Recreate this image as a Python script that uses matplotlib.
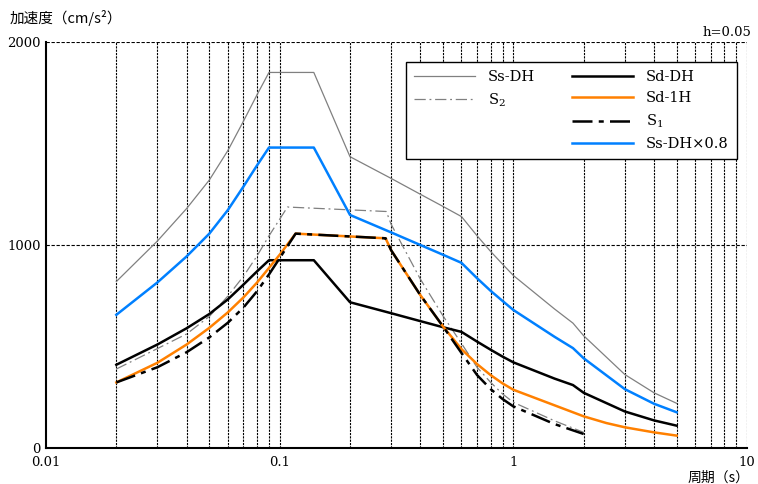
import numpy as np
import matplotlib
matplotlib.use("Agg")
import matplotlib.pyplot as plt
from matplotlib.lines import Line2D

plt.rcParams['font.family'] = ['DejaVu Serif']
plt.rcParams['mathtext.fontset'] = 'dejavuserif'

# periods (s) and spectral accelerations (cm/s2)
t_ss = [0.02, 0.03, 0.04, 0.05, 0.06, 0.07, 0.08, 0.09, 0.14, 0.2, 0.3, 0.4, 0.5, 0.6,
        0.7, 0.8, 0.9, 1.0, 1.5, 1.8, 2.0, 3.0, 4.0, 5.0]
ss_dh = [820, 1020, 1180, 1320, 1465, 1610, 1740, 1850, 1850, 1435, 1328, 1250, 1190, 1140,
         1045, 968, 905, 850, 685, 615, 553, 362, 272, 220]
ss_dh08 = [656, 816, 944, 1056, 1172, 1288, 1392, 1480, 1480, 1148, 1062, 1000, 952, 912,
           836, 774, 724, 680, 548, 492, 442, 290, 218, 176]
sd_dh = [410, 510, 590, 660, 732, 805, 870, 925, 925, 718, 664, 625, 595, 572,
         524, 484, 450, 422, 342, 310, 272, 180, 136, 110]

t_s2 = [0.02, 0.03, 0.04, 0.05, 0.06, 0.07, 0.08, 0.09, 0.1, 0.108, 0.286, 0.3, 0.4, 0.5,
        0.6, 0.7, 0.8, 0.9, 1.0, 1.5, 2.0]
s2 = [389, 490, 562, 648, 748, 846, 946, 1045, 1127, 1187, 1165, 1102, 832, 651,
      515, 397, 323, 266, 225, 134, 77]

t_sd1 = [0.02, 0.03, 0.04, 0.05, 0.06, 0.07, 0.08, 0.09, 0.1, 0.117, 0.284, 0.3, 0.4, 0.5,
         0.6, 0.7, 0.8, 0.9, 1.0, 2.0, 2.5, 3.0, 4.0, 5.0]
sd_1h = [323, 420, 510, 592, 668, 742, 815, 887, 952, 1056, 1033, 974, 753, 599,
         487, 413, 359, 318, 287, 156, 123, 102, 77, 61]

t_s1 = [0.02, 0.03, 0.04, 0.05, 0.06, 0.07, 0.08, 0.09, 0.1, 0.117, 0.284, 0.3, 0.4, 0.5,
        0.6, 0.7, 0.8, 0.9, 1.0, 1.5, 2.0]
s1 = [323, 398, 472, 545, 617, 692, 772, 855, 935, 1056, 1033, 974, 753, 599,
      468, 359, 290, 241, 205, 118, 69]

fig = plt.figure(figsize=(7.58, 4.84), dpi=100)
ax = fig.add_axes([46/758, 36/484, 701/758, 406/484])

ax.plot(t_ss, ss_dh, color='#808080', lw=0.9, label='Ss-DH')
ax.plot(t_s2, s2, color='#808080', lw=0.9, dashes=(9, 3, 1.5, 3), label='S$_2$')
ax.plot(t_ss, sd_dh, color='black', lw=1.8, label='Sd-DH')
ax.plot(t_sd1, sd_1h, color='#FF8000', lw=1.8, label='Sd-1H')
ax.plot(t_s1, s1, color='black', lw=1.8, dashes=(8, 2.5, 2, 2.5), label='S$_1$')
ax.plot(t_ss, ss_dh08, color='#0080FF', lw=1.8, label='Ss-DH×0.8')

ax.set_xscale('log')
ax.set_xlim(0.01, 10)
ax.set_ylim(0, 2000)
ax.set_xticks([0.01, 0.1, 1, 10])
ax.set_xticklabels(['0.01', '0.1', '1', '10'])
ax.set_yticks([0, 1000, 2000])
ax.set_yticklabels(['0', '1000', '2000'])
ax.tick_params(which='both', length=0, labelsize=9.5)
ax.tick_params(axis='x', pad=6)
ax.tick_params(axis='y', pad=4)

# dashed grid at every period line
for v in [a * 10.0**e for e in (-2, -1, 0) for a in range(1, 10)] + [10]:
    if v > 0.01:
        ax.axvline(v, color='black', lw=0.8, dashes=(2, 1), zorder=0)
for v in (1000, 2000):
    ax.axhline(v, color='black', lw=0.8, dashes=(3, 1.5), zorder=0)

for s in ('top', 'right'):
    ax.spines[s].set_visible(False)
ax.spines['left'].set_linewidth(1.5)
ax.spines['bottom'].set_linewidth(1.5)

h, l = ax.get_legend_handles_labels()
blank = Line2D([], [], linestyle='none')
order = [h[0], h[1], blank, blank, h[2], h[3], h[4], h[5]]
labs = [l[0], l[1], '', '', l[2], l[3], l[4], l[5]]
leg = ax.legend(order, labs, ncol=2, loc='upper right', bbox_to_anchor=(0.9857, 0.9507),
                borderaxespad=0, fancybox=False, edgecolor='black', framealpha=1,
                fontsize=10.5, handlelength=4.2, handletextpad=0.9, columnspacing=2.5,
                labelspacing=0.5, borderpad=0.55)
leg.get_frame().set_linewidth(1.0)

fig.text(10/758, 1 - 18/484, '加速度（cm/s²）', family=['Noto Sans CJK JP', 'DejaVu Sans'],
         fontsize=10.5, va='center', ha='left')
fig.text(750/758, 1 - 478/484, '周期（s）', family=['Noto Sans CJK JP', 'DejaVu Sans'],
         fontsize=10, va='center', ha='right')
fig.text(751/758, 1 - 32/484, 'h=0.05', fontsize=9.5, va='center', ha='right')

fig.savefig('out.png', dpi=100)
